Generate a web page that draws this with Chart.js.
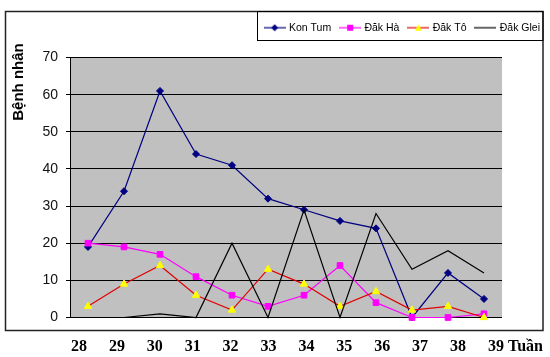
<!DOCTYPE html>
<html><head><meta charset="utf-8">
<script src="https://cdn.jsdelivr.net/npm/chart.js@4.4.1/dist/chart.umd.min.js"></script>
<style>html,body{margin:0;padding:0;background:#fff}#wrap{width:550px;height:357px}</style>
</head><body><div id="wrap"><canvas id="c" width="550" height="357"></canvas></div>
<script>
// ---- data ----
const weeks = ['28','29','30','31','32','33','34','35','36','37','38','39'];
const weekValues = [28,29,30,31,32,33,34,35,36,37,38,39];
const konTum  = [19,34,61,44,41,32,29,26,24,0,12,5];
const dakHa   = [20,19,17,11,6,3,6,14,4,0,0,1];
const dakTo   = [3,9,14,6,2,13,9,3,7,2,3,0];
const dakGlei = [0,0,1,0,20,0,29,0,28,13,18,12];
const yTickValues = [0,10,20,30,40,50,60,70];
const seriesNames = ['Kon Tum','Đăk Hà','Đăk Tô','Đăk Glei'];
const xUnit = 'Tuần';
const yTitle = 'Bệnh nhân';

// ---- legend icons (line + marker) ----
function makeIcon(lineColor, marker, fill) {
  const cv = document.createElement('canvas');
  cv.width = 22; cv.height = 10;
  const c = cv.getContext('2d');
  c.strokeStyle = lineColor; c.lineWidth = 1.2;
  c.beginPath(); c.moveTo(0, 5); c.lineTo(22, 5); c.stroke();
  c.fillStyle = fill;
  c.beginPath();
  if (marker === 'diamond') { c.moveTo(11,1.5); c.lineTo(14.5,5); c.lineTo(11,8.5); c.lineTo(7.5,5); c.closePath(); c.fill(); }
  else if (marker === 'square') { c.rect(8,2,6,6); c.fill(); }
  else if (marker === 'triangle') { c.moveTo(11,1.5); c.lineTo(14.5,8); c.lineTo(7.5,8); c.closePath(); c.fill(); }
  return cv;
}
const icons = [
  makeIcon('#000080','diamond','#000080'),
  makeIcon('#ff00ff','square','#ff00ff'),
  makeIcon('#e00000','triangle','#ffff00'),
  makeIcon('#000000',null,'#000')
];

const decor = {
  id: 'decor',
  beforeDraw(chart) {
    const {ctx, chartArea: a} = chart;
    ctx.save();
    ctx.fillStyle = '#ffffff';
    ctx.fillRect(0, 0, chart.width, chart.height);
    ctx.fillStyle = '#c0c0c0';
    ctx.fillRect(a.left, a.top, a.right - a.left, a.bottom - a.top);
    ctx.restore();
  },
  afterDraw(chart) {
    const {ctx} = chart;
    ctx.save();
    // outer frame
    ctx.strokeStyle = '#222';
    ctx.lineWidth = 1.5;
    ctx.strokeRect(5.5, 11.5, 537.5, 319);
    // legend box
    const lg = chart.legend;
    const lx = Math.round(lg.legendHitBoxes[0].left - 9) + 0.5;
    ctx.lineWidth = 1;
    ctx.strokeStyle = '#000';
    ctx.strokeRect(lx, 11.5, 543 - lx, 29);
    // y title
    ctx.fillStyle = '#000';
    ctx.font = 'bold 15px "Liberation Sans", Arial, sans-serif';
    ctx.textAlign = 'center';
    ctx.textBaseline = 'middle';
    ctx.translate(19, 82);
    ctx.rotate(-Math.PI / 2);
    ctx.fillText(yTitle, 0, 0);
    ctx.restore();
    // x unit
    ctx.save();
    ctx.fillStyle = '#000';
    ctx.font = 'bold 16px "Liberation Serif", "Times New Roman", serif';
    ctx.textAlign = 'left';
    ctx.textBaseline = 'middle';
    ctx.fillText(xUnit, 508, 347);
    ctx.restore();
  }
};

const common = { borderWidth: 1.2, tension: 0, clip: false, xAxisID: 'x', yAxisID: 'y', pointBorderWidth: 1 };

new Chart(document.getElementById('c'), {
  type: 'line',
  data: {
    labels: weeks,
    datasets: [
      Object.assign({}, common, { label: seriesNames[0], data: konTum, borderColor: '#000080', backgroundColor: '#000080',
        pointBackgroundColor: '#000080', pointBorderColor: '#000080', pointStyle: 'rectRot', pointRadius: 3.5, order: 4 }),
      Object.assign({}, common, { label: seriesNames[1], data: dakHa, borderColor: '#ff00ff', backgroundColor: '#ff00ff',
        pointBackgroundColor: '#ff00ff', pointBorderColor: '#ff00ff', pointStyle: 'rect', pointRadius: 4, order: 3 }),
      Object.assign({}, common, { label: seriesNames[2], data: dakTo, borderColor: '#e00000', backgroundColor: '#ffff00',
        pointBackgroundColor: '#ffff00', pointBorderColor: '#ffff00', pointStyle: 'triangle', pointRadius: 4.2, order: 2 }),
      Object.assign({}, common, { label: seriesNames[3], data: dakGlei, borderColor: '#000000', backgroundColor: '#000000',
        pointRadius: 0, order: 1 })
    ]
  },
  options: {
    responsive: false,
    animation: false,
    devicePixelRatio: 1,
    layout: { padding: { top: 12.5, left: 0, right: 0, bottom: 0 } },
    plugins: {
      tooltip: { enabled: false },
      legend: {
        position: 'top',
        align: 'end',
        labels: {
          font: { family: '"Liberation Sans", Arial, sans-serif', size: 10.5 },
          color: '#000',
          usePointStyle: true,
          pointStyleWidth: 18,
          padding: 10,
          generateLabels(chart) {
            return chart.data.datasets.map((ds, i) => ({
              text: ds.label,
              pointStyle: icons[i],
              fillStyle: ds.borderColor,
              strokeStyle: ds.borderColor,
              lineWidth: 0,
              fontColor: '#000',
              hidden: !chart.isDatasetVisible(i),
              datasetIndex: i
            }));
          }
        }
      }
    },
    scales: {
      x: {
        type: 'category',
        position: 'top',
        offset: true,
        grid: { display: false, drawTicks: false },
        border: { display: false },
        ticks: { display: false },
        afterFit(s) { s.height = 14.5; }
      },
      x2: {
        type: 'linear',
        position: 'bottom',
        min: 27.7625,
        max: 39.161,
        grid: { display: false, drawTicks: false },
        border: { display: false },
        ticks: {
          font: { family: '"Liberation Serif", "Times New Roman", serif', size: 16, weight: 'bold' },
          color: '#000',
          padding: 20,
          maxRotation: 0,
          autoSkip: false,
          callback(value, index) { return weeks[index]; }
        },
        afterBuildTicks(s) { s.ticks = weekValues.map(v => ({ value: v })); },
        afterFit(s) { s.height = 39.5; }
      },
      y: {
        type: 'linear',
        position: 'left',
        min: 0,
        max: 70,
        grid: { color: '#000', lineWidth: 1, tickLength: 4, drawTicks: true },
        border: { display: true, color: '#000', width: 1 },
        ticks: {
          font: { family: '"Liberation Sans", Arial, sans-serif', size: 14 },
          color: '#111',
          padding: 8
        },
        afterBuildTicks(s) { s.ticks = yTickValues.map(v => ({ value: v })); },
        afterFit(s) { s.width = 70; }
      },
      yR: {
        type: 'linear',
        position: 'right',
        grid: { display: false, drawTicks: false },
        border: { display: false },
        ticks: { display: false },
        afterFit(s) { s.width = 48; }
      }
    }
  },
  plugins: [decor]
});
</script>
</body></html>
